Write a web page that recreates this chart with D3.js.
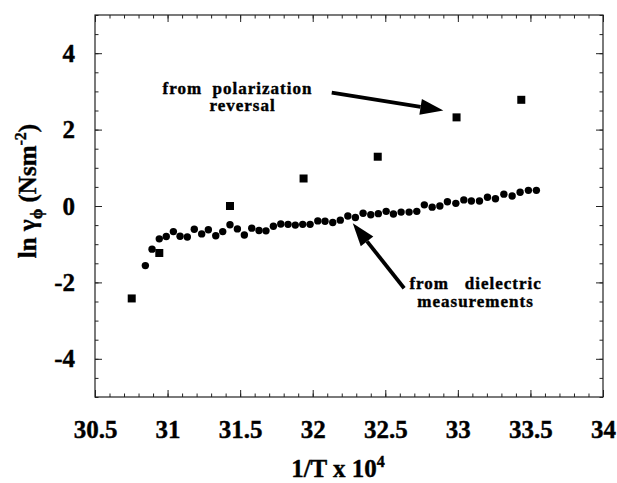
<!DOCTYPE html>
<html>
  <head>
    <meta charset="utf-8">
    <title>ln gamma vs 1/T</title>
    <script src="https://cdn.jsdelivr.net/npm/d3@7/dist/d3.min.js"></script>
    <style>
      body { margin: 0; background: #fff; }
      svg text { font-family: "Liberation Serif", "Times New Roman", serif; font-weight: bold; fill: #000; stroke: #000; stroke-width: 0.4; }
      .axis path { display: none; }
      .axis line { stroke: #222; stroke-width: 1; }
      .axis text { font-size: 25px; font-family: "Liberation Serif", serif; }
      .note { font-size: 17px; letter-spacing: 1px; }
    </style>
  </head>
  <body>
    <svg id="chart" width="617" height="483"></svg>
    <script>
      // dielectric measurements (circles)
      dielectricX = [30.847, 30.893, 30.943, 30.991, 31.040, 31.086, 31.136, 31.184, 31.235, 31.281,
        31.332, 31.380, 31.430, 31.481, 31.529, 31.580, 31.630, 31.678, 31.729, 31.780,
        31.830, 31.880, 31.931, 31.982, 32.035, 32.085, 32.138, 32.190, 32.242, 32.294,
        32.347, 32.400, 32.452, 32.506, 32.556, 32.609, 32.664, 32.717, 32.769, 32.823,
        32.876, 32.928, 32.986, 33.041, 33.093, 33.149, 33.204, 33.259, 33.317, 33.374,
        33.429, 33.486, 33.541];
      dielectricY = [-1.56, -1.13, -0.86, -0.80, -0.67, -0.79, -0.81, -0.61, -0.73, -0.62,
        -0.78, -0.67, -0.49, -0.60, -0.76, -0.58, -0.64, -0.65, -0.53, -0.47,
        -0.48, -0.50, -0.48, -0.48, -0.39, -0.40, -0.43, -0.37, -0.26, -0.30,
        -0.19, -0.23, -0.20, -0.14, -0.21, -0.16, -0.16, -0.14, 0.03, -0.03,
        0.00, 0.11, 0.07, 0.16, 0.13, 0.13, 0.23, 0.19, 0.31, 0.26,
        0.36, 0.41, 0.41];
      // polarization reversal (squares)
      reversalX = [30.753, 30.943, 31.430, 31.937, 32.448, 32.991, 33.437];
      reversalY = [-2.42, -1.23, 0.00, 0.72, 1.29, 2.32, 2.78];
      // axis ticks
      xTickLabels = [30.5, 31, 31.5, 32, 32.5, 33, 33.5, 34];
      yTickLabels = [-4, -2, 0, 2, 4];

      svg = d3.select("#chart");
      x = d3.scaleLinear().domain([30.5, 34]).range([95, 603]);
      y = d3.scaleLinear().domain([-5, 5]).range([397, 15]);
      xMinor = d3.range(305, 341).map(function(d) { return d / 10; });
      yMinor = d3.range(-10, 11).map(function(d) { return d / 2; });

      // ticks point inward on all four sides
      function addAxis(axis, tx, ty) {
        svg.append("g")
          .attr("class", "axis")
          .attr("transform", "translate(" + tx + "," + ty + ")")
          .call(axis);
      }
      addAxis(d3.axisBottom(x).tickValues(xMinor).tickSize(-3.5).tickFormat(""), 0, 397);
      addAxis(d3.axisTop(x).tickValues(xMinor).tickSize(-3.5).tickFormat(""), 0, 15);
      addAxis(d3.axisLeft(y).tickValues(yMinor).tickSize(-3.5).tickFormat(""), 95, 0);
      addAxis(d3.axisRight(y).tickValues(yMinor).tickSize(-3.5).tickFormat(""), 603, 0);
      addAxis(d3.axisBottom(x).tickValues(xTickLabels).tickSize(-7).tickPadding(23)
        .tickFormat(function(d) { return String(d); }), 0, 397);
      addAxis(d3.axisTop(x).tickValues(xTickLabels).tickSize(-7).tickFormat(""), 0, 15);
      addAxis(d3.axisLeft(y).tickValues(yTickLabels).tickSize(-7).tickPadding(20)
        .tickFormat(function(d) { return String(d); }), 95, 0);
      addAxis(d3.axisRight(y).tickValues(yTickLabels).tickSize(-7).tickFormat(""), 603, 0);

      // frame
      svg.append("rect")
        .attr("x", 95).attr("y", 15)
        .attr("width", 508).attr("height", 382)
        .attr("fill", "none")
        .attr("stroke", "#222")
        .attr("stroke-width", 1.2);

      // data marks
      svg.append("g").selectAll("circle")
          .data(dielectricX)
        .enter().append("circle")
          .attr("cx", function(d) { return x(d); })
          .attr("cy", function(d, i) { return y(dielectricY[i]); })
          .attr("r", 3.7)
          .attr("fill", "#000");
      svg.append("g").selectAll("rect")
          .data(reversalX)
        .enter().append("rect")
          .attr("x", function(d) { return x(d) - 4; })
          .attr("y", function(d, i) { return y(reversalY[i]) - 4; })
          .attr("width", 8)
          .attr("height", 8)
          .attr("fill", "#000");

      // annotations
      function arrow(x1, y1, x2, y2) {
        var a = Math.atan2(y2 - y1, x2 - x1), len = 23, half = 8;
        var bx = x2 - len * Math.cos(a), by = y2 - len * Math.sin(a);
        svg.append("line")
          .attr("x1", x1).attr("y1", y1)
          .attr("x2", bx).attr("y2", by)
          .attr("stroke", "#000").attr("stroke-width", 3.8);
        svg.append("polygon")
          .attr("points", [[x2, y2],
            [bx + half * Math.sin(a), by - half * Math.cos(a)],
            [bx - half * Math.sin(a), by + half * Math.cos(a)]].join(" "))
          .attr("fill", "#000");
      }
      arrow(x(32.131), y(2.966), x(32.90), y(2.50));
      arrow(x(32.630), y(-2.154), x(32.276), y(-0.453));

      function note(lines, by) {
        lines.forEach(function(l, i) {
          svg.append("text")
            .attr("class", "note")
            .attr("x", x(l[1]))
            .attr("y", y(by) + i * 17.5)
            .attr("text-anchor", "middle")
            .style("white-space", "pre")
            .text(l[0]);
        });
      }
      note([["from  polarization", 31.482], ["reversal", 31.517]], 2.932);
      note([["from   dielectric", 33.122], ["measurements", 33.122]], -2.173);

      // axis titles
      xt = svg.append("text")
        .attr("x", 338).attr("y", 477)
        .attr("text-anchor", "middle")
        .style("font-size", "25px");
      xt.append("tspan").text("1/T x 10");
      xt.append("tspan").attr("dy", -10).style("font-size", "16px").text("4");

      yt = svg.append("text")
        .attr("transform", "translate(36,191) rotate(-90)")
        .attr("text-anchor", "middle")
        .style("font-size", "25px")
        .style("white-space", "pre");
      yt.append("tspan").text("ln γ");
      yt.append("tspan").attr("dy", 6).style("font-size", "17px").text("ϕ");
      yt.append("tspan").attr("dy", -6).text(" (Nsm");
      yt.append("tspan").attr("dy", -10).style("font-size", "16px").text("-2");
      yt.append("tspan").attr("dy", 10).text(")");
    </script>
  </body>
</html>
